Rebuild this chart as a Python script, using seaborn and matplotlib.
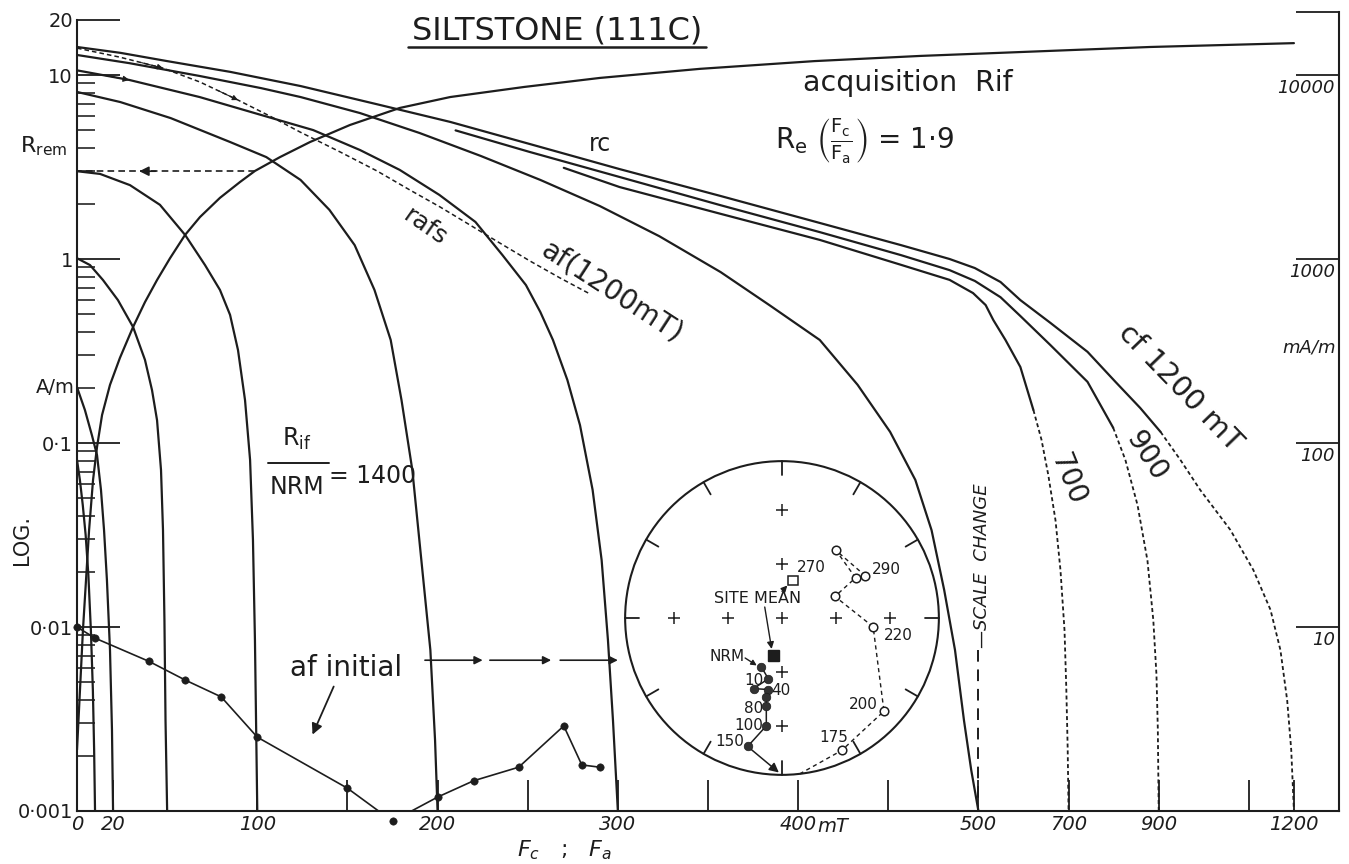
import numpy as np
import matplotlib
matplotlib.use("Agg")
import matplotlib.pyplot as plt
import seaborn as sns
from matplotlib.patches import Circle, Rectangle
from matplotlib.lines import Line2D
from matplotlib.ticker import FixedLocator, NullFormatter, NullLocator

sns.set_theme(style="ticks")
plt.rcParams["font.family"] = ["DejaVu Sans"]
plt.rcParams["mathtext.fontset"] = "dejavusans"

INK = "#1d1d1d"

# ---------------- remanence curves: field (mT) vs remanence (A/m) ----------------
cf1200_field = [0, 24, 50, 85, 124, 166, 207, 251, 301, 357, 412, 457, 484, 498, 549, 593,
                660, 742, 804, 859, 904, 948, 992, 1059, 1110, 1148, 1170, 1185, 1194, 1200]
cf1200_rem = [14.2, 13.2, 11.9, 10.4, 8.71, 6.95, 5.56, 4.22, 3.08, 2.20, 1.57, 1.19, 1.0,
              0.893, 0.750, 0.598, 0.449, 0.313, 0.215, 0.155, 0.115, 0.081, 0.0556, 0.0337,
              0.0204, 0.0124, 0.0075, 0.0040, 0.00215, 0.001]
cf1200_solid_to = 904

cf900_field = [210, 251, 301, 357, 412, 457, 484, 498, 549, 593, 660, 742, 799, 826, 853,
               875, 888, 895, 898, 900]
cf900_rem = [5.0, 3.82, 2.79, 1.96, 1.40, 1.05, 0.87, 0.76, 0.62, 0.49, 0.34, 0.215, 0.121,
             0.081, 0.046, 0.023, 0.0109, 0.0055, 0.0028, 0.001]
cf900_solid_to = 799

cf700_field = [270, 301, 357, 412, 457, 484, 497, 516, 533, 560, 593, 622, 640, 655, 671,
               682, 691, 695, 698, 700]
cf700_rem = [3.13, 2.46, 1.76, 1.27, 0.93, 0.77, 0.653, 0.562, 0.466, 0.363, 0.259, 0.151,
             0.104, 0.067, 0.038, 0.0204, 0.0096, 0.0046, 0.0022, 0.001]
cf700_solid_to = 622

af500_field = [0, 29, 68, 102, 124, 157, 190, 224, 257, 290, 323, 357, 384, 412, 433, 451,
               465, 474, 481, 487, 492, 496, 500]
af500_rem = [12.85, 11.6, 9.88, 8.49, 7.59, 6.21, 4.84, 3.63, 2.69, 1.94, 1.33, 0.849, 0.562,
             0.363, 0.207, 0.115, 0.063, 0.0336, 0.0159, 0.0075, 0.0031, 0.00167, 0.001]

af300_field = [0, 29, 68, 102, 131, 157, 179, 201, 221, 236, 249, 257, 264, 272, 279, 286,
               291, 294.5, 297.3, 300]
af300_rem = [10.6, 9.40, 7.59, 6.07, 5.02, 3.91, 3.05, 2.23, 1.59, 1.05, 0.722, 0.515, 0.363,
             0.220, 0.125, 0.0556, 0.0231, 0.0085, 0.0031, 0.001]

af200_field = [0, 24, 52, 85, 105, 124, 140, 154, 165, 174, 180, 186, 191, 196, 198.6, 200]
af200_rem = [8.09, 7.13, 5.83, 4.32, 3.58, 2.69, 1.85, 1.19, 0.679, 0.363, 0.171, 0.0713,
             0.0231, 0.0075, 0.00243, 0.001]

af100_field = [0, 12.8, 29.4, 46, 60, 71, 79.3, 84.9, 89.3, 93.2, 96, 97.6, 98.7, 100]
af100_rem = [3.0, 2.90, 2.52, 1.97, 1.35, 0.927, 0.679, 0.497, 0.320, 0.171, 0.081, 0.0297,
             0.0085, 0.001]

af50_field = [0, 7.2, 14.4, 22.7, 31.1, 37.7, 41.6, 44.4, 46.6, 47.7, 48.5, 49.1, 50]
af50_rem = [1.01, 0.927, 0.769, 0.598, 0.427, 0.283, 0.194, 0.133, 0.0713, 0.0336, 0.0109,
            0.0031, 0.001]

af20_field = [0, 4.4, 8.3, 11.1, 13.3, 15.0, 16.6, 18.3, 19.4, 20]
af20_rem = [0.201, 0.151, 0.110, 0.086, 0.0556, 0.0336, 0.0180, 0.0075, 0.00276, 0.001]

af10_field = [0, 1.6, 3.2, 4.8, 6.3, 7.7, 8.8, 9.5, 10]
af10_rem = [0.081, 0.063, 0.046, 0.0316, 0.0192, 0.0096, 0.00455, 0.00215, 0.001]

acq_field = [0, 1.1, 2.2, 3.3, 5.0, 6.7, 8.9, 11.1, 13.9, 18.3, 23.8, 31.1, 37.7, 44.4, 51.6,
             59.9, 68.2, 79.3, 90.4, 98.7, 112.6, 129.2, 151.4, 179, 207, 248, 290, 345.5,
             409, 468, 549, 881, 1200]
acq_rem = [0.00215, 0.00354, 0.00583, 0.00964, 0.0180, 0.0336, 0.0630, 0.0951, 0.142, 0.207,
           0.290, 0.427, 0.583, 0.769, 1.01, 1.35, 1.69, 2.15, 2.62, 3.01, 3.58, 4.32, 5.35,
           6.62, 7.59, 8.61, 9.64, 10.8, 11.9, 12.7, 13.2, 14.2, 14.9]

rafs_field = [0, 23.8, 47.7, 68.2, 89.3, 107, 123.7, 145.9, 166.4, 184.7, 201.3, 218, 234.6,
              251.2, 267.9, 284.5]
rafs_rem = [14.0, 12.5, 10.9, 9.16, 7.31, 5.98, 4.90, 3.82, 3.01, 2.37, 1.92, 1.53, 1.22,
            0.976, 0.789, 0.646]

rrem_level = 3.0
rrem_field_end = 99

# af demagnetisation of the natural remanence
afi_field = [0, 10, 40, 60, 80, 100, 150, 175, 200, 220, 245, 270, 280, 290]
afi_rem = [0.0100, 0.0087, 0.0065, 0.00515, 0.00417, 0.00252, 0.00133, 0.00088, 0.00119,
           0.00146, 0.00173, 0.0029, 0.00178, 0.00173]

# axis tick values and labels
y_major = [0.001, 0.01, 0.1, 1, 10, 20]
y_major_labels = ["0·001", "0·01", "0·1", "1", "10", "20"]
x_major = [0, 20, 100, 200, 300, 400, 500, 700, 900, 1200]
x_major_labels = ["0", "20", "100", "200", "300", "400", "500", "700", "900", "1200"]
x_minor = [150, 250, 350, 450, 1100]
right_vals = [10, 1, 0.1, 0.01]
right_labels = ["10000", "1000", "100", "10"]

# ---------------- stereonet (equal-area, unit radius) ----------------
lower_x = [-0.131, -0.0875, -0.181, -0.0875, -0.10, -0.10, -0.10, -0.219]
lower_y = [-0.3125, -0.3875, -0.45, -0.456, -0.506, -0.5625, -0.6875, -0.819]
upper_x = [0.381, 0.65, 0.581, 0.3375, 0.469, 0.344, 0.531]
upper_y = [-0.844, -0.594, -0.056, 0.1375, 0.256, 0.431, 0.269]
mean_open = (0.069, 0.2375)
mean_filled = (-0.056, -0.2375)

# ---------------------------------------------------------------------------
W, H = 1349, 864
fig = plt.figure(figsize=(W / 100, H / 100), dpi=100)
fig.patch.set_facecolor("white")


def fx(px):
    return px / W


def fy(py):
    return 1 - py / H


ax = fig.add_axes([fx(77), fy(811), (1339 - 77) / W, (811 - 12) / H])
ax.set_facecolor("white")


def fwd(x):
    x = np.asarray(x, float)
    return np.where(x <= 500, x, 500 + (x - 500) / 4)


def inv(u):
    u = np.asarray(u, float)
    return np.where(u <= 500, u, 500 + (u - 500) * 4)


ax.set_xscale("function", functions=(fwd, inv))
ax.set_yscale("log")
ax.set_xlim(0, 1300)
ax.set_ylim(0.001, 22)

LW = 1.6


def line(xs, ys, axis=ax, lw=LW, **kw):
    sns.lineplot(x=list(xs), y=list(ys), ax=axis, sort=False, estimator=None,
                 color=INK, lw=lw, solid_joinstyle="round", **kw)


def split_line(xs, ys, solid_to):
    xs = np.asarray(xs, float)
    ys = np.asarray(ys, float)
    s = xs <= solid_to
    d = xs >= solid_to
    line(xs[s], ys[s])
    line(xs[d], ys[d], lw=1.3, dashes=(2.2, 1.6))


def mid_arrow(xs, ys, i, size=8):
    ax.annotate("", xy=(xs[i], ys[i]),
                xytext=(0.5 * (xs[i - 1] + xs[i]), np.sqrt(ys[i - 1] * ys[i])),
                arrowprops=dict(arrowstyle="-|>", color=INK, lw=0.8, mutation_scale=size,
                                shrinkA=0, shrinkB=0))


split_line(cf1200_field, cf1200_rem, cf1200_solid_to)
split_line(cf900_field, cf900_rem, cf900_solid_to)
split_line(cf700_field, cf700_rem, cf700_solid_to)
for fxs, rys in [(af500_field, af500_rem), (af300_field, af300_rem), (af200_field, af200_rem),
                 (af100_field, af100_rem), (af50_field, af50_rem), (af20_field, af20_rem),
                 (af10_field, af10_rem), (acq_field, acq_rem)]:
    line(fxs, rys)

line(rafs_field, rafs_rem, lw=1.1, dashes=(3, 2))
for i in (2, 4):
    mid_arrow(rafs_field, rafs_rem, i)
mid_arrow(af300_field, af300_rem, 1, size=9)

# R_rem read-off
line([rrem_field_end, 0], [rrem_level, rrem_level], lw=1.2, dashes=(4, 2.5))
ax.annotate("", xy=(33, rrem_level), xytext=(45, rrem_level),
            arrowprops=dict(arrowstyle="-|>", color=INK, lw=1.2, mutation_scale=14))

# af initial curve with its measurement points
line(afi_field, afi_rem, lw=1.2)
sns.scatterplot(x=afi_field, y=afi_rem, ax=ax, color=INK, s=28, edgecolor=INK, zorder=5,
                clip_on=False)

# scale-change marker
line([500, 500], [0.0075, 0.001], lw=1.4, dashes=(6, 4))

# ---------------- axes styling ----------------
ax.spines["top"].set_visible(False)
for side in ("left", "right", "bottom"):
    ax.spines[side].set_linewidth(1.5)
    ax.spines[side].set_color(INK)
ax.spines["left"].set_bounds(0.001, 20)

ax.set_yticks(y_major)
ax.set_yticklabels(y_major_labels)
ax.yaxis.set_minor_locator(FixedLocator([m * 10.0 ** k for k in range(-3, 1) for m in range(2, 10)]))
ax.yaxis.set_minor_formatter(NullFormatter())
ax.tick_params(axis="y", which="major", direction="in", length=31, width=1.3, left=True,
               right=False, labelsize=14, pad=3, colors=INK)
ax.tick_params(axis="y", which="minor", direction="in", length=13, width=1.2, left=True,
               right=False)

ax.set_xticks(x_major)
ax.set_xticklabels(x_major_labels, style="italic")
ax.xaxis.set_minor_locator(FixedLocator(x_minor))
ax.xaxis.set_minor_formatter(NullFormatter())
ax.tick_params(axis="x", which="both", direction="in", length=22, width=1.3, bottom=True,
               top=False, labelsize=14, pad=3, colors=INK)
ax.set_xlabel("")
ax.set_ylabel("")

axr = ax.twinx()
axr.set_yscale("log")
axr.set_ylim(ax.get_ylim())
axr.set_yticks(right_vals + [22])
axr.set_yticklabels([])
axr.yaxis.set_minor_locator(NullLocator())
axr.tick_params(axis="y", which="major", direction="in", length=31, width=1.3, right=True,
                left=False, colors=INK)
for s in axr.spines.values():
    s.set_visible(False)
for v, lab in zip(right_vals, right_labels):
    axr.annotate(lab, xy=(1, v), xycoords=("axes fraction", "data"), xytext=(-3, -3),
                 textcoords="offset points", ha="right", va="top", fontsize=13,
                 style="italic", color=INK)
fig.text(fx(1336), fy(348), "mA/m", ha="right", va="center", fontsize=13, style="italic",
         color=INK)

# ---------------- labels ----------------
fig.text(fx(557), fy(31), "SILTSTONE (111C)", ha="center", va="center", fontsize=23, color=INK)
fig.add_artist(Line2D([fx(408), fx(706)], [fy(47), fy(47)], color=INK, lw=1.8))
fig.text(fx(44), fy(146), r"R$_{\mathrm{rem}}$", ha="center", va="center", fontsize=16, color=INK)
fig.text(fx(75), fy(387), "A/m", ha="right", va="center", fontsize=14, color=INK)
fig.text(fx(22), fy(540), "LOG.", ha="center", va="center", rotation=90, fontsize=15, color=INK)
fig.text(fx(565), fy(850), r"$F_c$   ;   $F_a$", ha="center", va="center", fontsize=16, color=INK)
ax.annotate("mT", xy=(400, 0.001), xytext=(14, -4), textcoords="offset points", ha="left",
            va="top", fontsize=14, style="italic", color=INK)

ax.text(461, 9.0, "acquisition  Rif", ha="center", va="center", fontsize=20.5, color=INK)
ax.text(437, 4.4, r"$\mathrm{R_e}\ \left(\frac{\mathrm{F_c}}{\mathrm{F_a}}\right)$ = 1·9",
        ha="center", va="center", fontsize=20, color=INK)
ax.text(290, 4.2, "rc", ha="center", va="center", fontsize=17, color=INK)
ax.text(193, 1.5, "rafs", ha="center", va="center", fontsize=18, rotation=-35, color=INK)
ax.text(297, 0.66, "af(1200mT)", ha="center", va="center", fontsize=20, rotation=-33, color=INK)
ax.text(948, 0.2, "cf 1200 mT", ha="center", va="center", fontsize=21, rotation=-46, color=INK)
ax.text(872, 0.085, "900", ha="center", va="center", fontsize=20, rotation=-57, color=INK)
ax.text(700, 0.063, "700", ha="center", va="center", fontsize=20, rotation=-68, color=INK)
ax.text(122, 0.105, r"R$_{\mathrm{if}}$", ha="center", va="center", fontsize=17, color=INK)
line([106, 140], [0.0775, 0.0775], lw=1.4)
ax.text(122, 0.058, "NRM", ha="center", va="center", fontsize=17, color=INK)
ax.text(140, 0.066, "= 1400", ha="left", va="center", fontsize=17, color=INK)
ax.text(149, 0.006, "af initial", ha="center", va="center", fontsize=20, color=INK)
ax.annotate("", xy=(130, 0.00252), xytext=(143, 0.0049),
            arrowprops=dict(arrowstyle="-|>", color=INK, lw=1.3, mutation_scale=16))
for x0, x1 in [(193, 225), (229, 263), (268, 300)]:
    ax.annotate("", xy=(x1, 0.0066), xytext=(x0, 0.0066),
                arrowprops=dict(arrowstyle="-|>", color=INK, lw=1.2, mutation_scale=12,
                                shrinkA=0, shrinkB=0))
ax.text(509, 0.0215, "—SCALE  CHANGE", ha="center", va="center", rotation=90, fontsize=13,
        style="italic", color=INK)

# ---------------- stereonet inset ----------------
sax = fig.add_axes([fx(622), fy(778), 320 / W, 320 / H])
sax.set_xlim(-1.02, 1.02)
sax.set_ylim(-1.02, 1.02)
sax.set_aspect("equal")
sax.axis("off")
sax.patch.set_alpha(0)
sax.add_patch(Circle((0, 0), 1, fill=False, lw=1.5, ec=INK))
for ang in np.deg2rad(np.arange(0, 360, 30)):
    sax.plot([0.91 * np.cos(ang), np.cos(ang)], [0.91 * np.sin(ang), np.sin(ang)], color=INK, lw=1.3)
grid = [0.344, 0.6875]
cx = [0] + grid + [-g for g in grid] + [0, 0, 0, 0]
cy = [0, 0, 0, 0, 0] + grid + [-g for g in grid]
sax.scatter(cx, cy, marker="+", s=70, color=INK, lw=1.1)

line(lower_x, lower_y, axis=sax, lw=1.1)
sns.scatterplot(x=lower_x, y=lower_y, ax=sax, color="#333333", s=38, edgecolor=INK, zorder=5)
sax.annotate("", xy=(-0.02, -0.985), xytext=(lower_x[-1], lower_y[-1]),
             arrowprops=dict(arrowstyle="-|>", color=INK, lw=1.1, mutation_scale=14, shrinkA=3,
                             shrinkB=0))
path_x = [0.1125] + upper_x
path_y = [-0.994] + upper_y
line(path_x, path_y, axis=sax, lw=1.0, dashes=(3, 2.5))
sns.scatterplot(x=upper_x, y=upper_y, ax=sax, facecolor="white", s=38, edgecolor=INK,
                linewidth=1.1, zorder=5)
sax.add_patch(Rectangle((mean_open[0] - 0.03, mean_open[1] - 0.03), 0.06, 0.06, fill=False,
                        ec=INK, lw=1.1))
sax.add_patch(Rectangle((mean_filled[0] - 0.035, mean_filled[1] - 0.035), 0.07, 0.07,
                        fc=INK, ec=INK))
sax.text(-0.156, 0.125, "SITE MEAN", ha="center", va="center", fontsize=11.5, color=INK)
sax.annotate("", xy=(mean_open[0] - 0.035, mean_open[1] - 0.03), xytext=(0.0, 0.17),
             arrowprops=dict(arrowstyle="-|>", color=INK, lw=1.0, mutation_scale=9, shrinkA=0,
                             shrinkB=0))
sax.annotate("", xy=(mean_filled[0] - 0.01, mean_filled[1] + 0.04), xytext=(-0.11, 0.07),
             arrowprops=dict(arrowstyle="-|>", color=INK, lw=1.0, mutation_scale=10, shrinkA=0,
                             shrinkB=0))
sax.text(-0.24, -0.245, "NRM", ha="right", va="center", fontsize=11, color=INK)
sax.annotate("", xy=(lower_x[0] - 0.03, lower_y[0] + 0.01), xytext=(-0.235, -0.255),
             arrowprops=dict(arrowstyle="-|>", color=INK, lw=1.0, mutation_scale=8, shrinkA=0,
                             shrinkB=0))
for txt, x, y, ha in [("10", -0.12, -0.40, "right"), ("40", -0.07, -0.465, "left"),
                      ("80", -0.12, -0.575, "right"), ("100", -0.12, -0.685, "right"),
                      ("150", -0.24, -0.79, "right"), ("175", 0.33, -0.76, "center"),
                      ("200", 0.52, -0.55, "center"), ("220", 0.74, -0.11, "center"),
                      ("270", 0.28, 0.32, "right"), ("290", 0.57, 0.31, "left")]:
    sax.text(x, y, txt, ha=ha, va="center", fontsize=11, color=INK)

fig.savefig("out.png", dpi=100, facecolor="white")
